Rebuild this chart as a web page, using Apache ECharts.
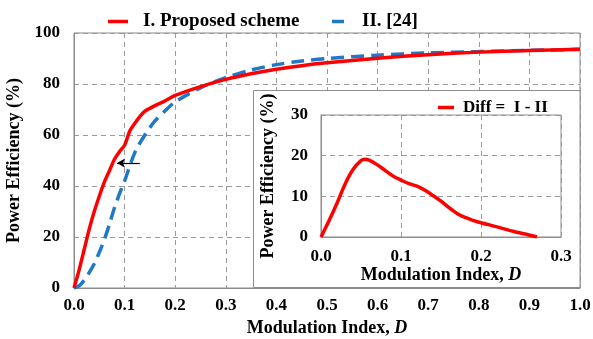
<!DOCTYPE html>
<html><head><meta charset="utf-8">
<script src="https://cdn.jsdelivr.net/npm/echarts@6/dist/echarts.min.js"></script>
<style>html,body{margin:0;padding:0;background:#fff}#c{width:593px;height:339px}</style>
</head><body><div id="c"></div>
<script>
// Main chart: Modulation index D vs power efficiency (%)
const xI = [0, 0.01, 0.02, 0.03, 0.04, 0.05, 0.06, 0.07, 0.08, 0.09, 0.10, 0.11, 0.12, 0.13, 0.14, 0.16, 0.18, 0.20, 0.25, 0.30, 0.35, 0.40, 0.45, 0.50, 0.60, 0.70, 0.80, 0.90, 1.00];
const yI = [0, 7, 15, 23, 30, 36, 41.5, 46, 50.5, 53.5, 56, 61.5, 64.5, 67.2, 69.3, 71.5, 73.4, 75.5, 79, 81.8, 84, 85.8, 87.2, 88.3, 90.1, 91.5, 92.5, 93.1, 93.6];
const xII = [0, 0.01, 0.02, 0.03, 0.04, 0.05, 0.06, 0.07, 0.08, 0.09, 0.10, 0.12, 0.14, 0.16, 0.18, 0.20, 0.25, 0.30, 0.35, 0.40, 0.45, 0.50, 0.60, 0.70, 0.80, 0.90, 1.00];
const yII = [0, 0.8, 3, 6, 9.5, 14, 19, 25, 31.5, 37, 42, 53, 60, 65.5, 69.5, 73, 78.5, 82.5, 85.5, 87.6, 89, 90, 91.3, 92.2, 92.7, 93.2, 93.6];
// Inset: difference I - II
const xDiff = [0, 0.01, 0.02, 0.03, 0.04, 0.05, 0.055, 0.06, 0.07, 0.08, 0.09, 0.10, 0.11, 0.12, 0.13, 0.14, 0.15, 0.16, 0.17, 0.18, 0.19, 0.20, 0.22, 0.24, 0.26, 0.27];
const yDiff = [0, 4, 8.3, 13, 16.6, 18.8, 19.1, 18.9, 17.8, 16.4, 15, 14, 13.1, 12.5, 11.5, 10.2, 8.8, 7.2, 5.8, 4.8, 4.1, 3.5, 2.5, 1.4, 0.5, 0];
// Arrow annotation (data coords)
const arrowFrom = [0.13, 49];
const arrowTo = [0.085, 49];
// Labels
const nameI = 'I. Proposed scheme';
const nameII = 'II. [24]';
const nameDiff = 'Diff =  I - II';
const xTitle = 'Modulation Index, {i|D}';
const yTitle = 'Power Efficiency (%)';

const zip = (xs, ys) => xs.map((x, i) => [x, ys[i]]);
const FONT = "'Liberation Serif', 'Times New Roman', serif";
const GRID = '#9a9a9a';
const BORDER = '#8c8c8c';
const tick = { fontFamily: FONT, fontWeight: 'bold', fontSize: 17, color: '#000' };
const title = { fontFamily: FONT, fontWeight: 'bold', fontSize: 18, color: '#000',
  rich: { i: { fontFamily: FONT, fontWeight: 'bold', fontStyle: 'italic', fontSize: 18, color: '#000' } } };
const split = { show: true, lineStyle: { color: GRID, type: [5, 4], width: 1 } };
const legText = (size, pad) => ({ fontFamily: FONT, fontWeight: 'bold', fontSize: size, color: '#000', padding: [0, 0, 0, pad] });

const chart = echarts.init(document.getElementById('c'), null, { renderer: 'canvas' });
chart.setOption({
  animation: false,
  backgroundColor: '#fff',
  legend: [
    { data: [{ name: nameI, icon: 'rect' }], left: 103, top: 7, itemWidth: 20, itemHeight: 3.5,
      textStyle: legText(19, 10) },
    { data: [{ name: nameII, icon: 'rect' }], left: 327, top: 7, itemWidth: 12, itemHeight: 3.5,
      textStyle: legText(19, 13) },
    { data: [{ name: nameDiff, icon: 'rect' }], left: 433, top: 94, itemWidth: 16, itemHeight: 3.5, z: 110,
      textStyle: legText(17, 4) }
  ],
  graphic: [
    { type: 'rect', z: 100, shape: { x: 253.5, y: 90.5, width: 326.5, height: 197 },
      style: { fill: '#fff', stroke: BORDER, lineWidth: 1 } }
  ],
  grid: [
    { left: 74, right: 13, top: 33, bottom: 51, show: true, borderColor: BORDER, borderWidth: 1,
      containLabel: false, outerBoundsMode: 'none' },
    { left: 321, right: 32, top: 115, bottom: 102, show: true, borderColor: BORDER, borderWidth: 1, z: 101,
      containLabel: false, outerBoundsMode: 'none' }
  ],
  xAxis: [
    { type: 'value', gridIndex: 0, min: 0, max: 1, interval: 0.1,
      axisLine: { lineStyle: { color: BORDER } }, axisTick: { show: false },
      axisLabel: Object.assign({ margin: 9, formatter: v => v.toFixed(1) }, tick),
      splitLine: split,
      name: xTitle, nameLocation: 'middle', nameGap: 31, nameTextStyle: title },
    { type: 'value', gridIndex: 1, min: 0, max: 0.3, interval: 0.1, z: 101,
      axisLine: { lineStyle: { color: BORDER } }, axisTick: { show: false },
      axisLabel: Object.assign({ margin: 11, formatter: v => v.toFixed(1) }, tick),
      splitLine: split,
      name: xTitle, nameLocation: 'middle', nameGap: 29, nameTextStyle: title }
  ],
  yAxis: [
    { type: 'value', gridIndex: 0, min: 0, max: 100, interval: 20,
      axisLine: { show: true, lineStyle: { color: BORDER } }, axisTick: { show: false },
      axisLabel: Object.assign({ margin: 14 }, tick),
      splitLine: split,
      name: yTitle, nameLocation: 'middle', nameGap: 44, nameTextStyle: title },
    { type: 'value', gridIndex: 1, min: 0, max: 30, interval: 10, z: 101,
      axisLine: { show: true, lineStyle: { color: BORDER } }, axisTick: { show: false },
      axisLabel: Object.assign({ margin: 13 }, tick),
      splitLine: split,
      name: yTitle, nameLocation: 'middle', nameGap: 44, nameTextStyle: title }
  ],
  series: [
    { name: nameI, type: 'line', xAxisIndex: 0, yAxisIndex: 0, data: zip(xI, yI),
      symbol: 'none', smooth: 0.3, color: '#ff0000', lineStyle: { color: '#ff0000', width: 3.5 }, z: 3,
      markLine: { silent: true, symbol: ['none', 'arrow'], symbolSize: [7, 8], animation: false,
        label: { show: false }, lineStyle: { color: '#000', width: 1.2, type: 'solid' },
        data: [[{ coord: arrowFrom }, { coord: arrowTo }]] } },
    { name: nameII, type: 'line', xAxisIndex: 0, yAxisIndex: 0, data: zip(xII, yII),
      symbol: 'none', smooth: 0.3, color: '#1f78c8', lineStyle: { color: '#1f78c8', width: 3.5, type: [13, 7] }, z: 2 },
    { name: nameDiff, type: 'line', xAxisIndex: 1, yAxisIndex: 1, data: zip(xDiff, yDiff),
      symbol: 'none', smooth: 0.3, color: '#ff0000', lineStyle: { color: '#ff0000', width: 3.5 }, z: 102 }
  ]
});
</script></body></html>
